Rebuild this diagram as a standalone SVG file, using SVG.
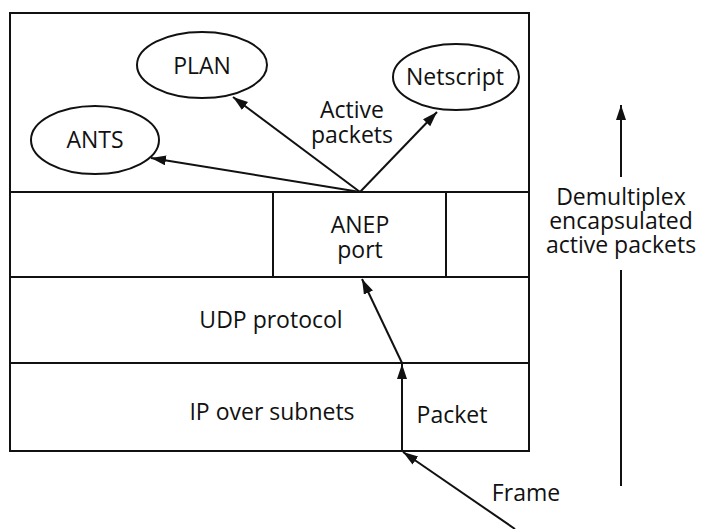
<svg xmlns="http://www.w3.org/2000/svg" width="701" height="529" viewBox="0 0 701 529">
  <style>
    .frame { fill: none; stroke: #111; stroke-width: 2; }
    .oval { fill: #fff; stroke: #111; stroke-width: 2; }
    .link { fill: none; stroke: #111; stroke-width: 2; }
    .lbl { font-family: "Open Sans", "Noto Sans", "Liberation Sans", sans-serif; font-size: 23px; fill: #111; text-anchor: middle; }
  </style>
  <defs>
    <marker id="head" markerUnits="userSpaceOnUse" markerWidth="16" markerHeight="12" refX="15" refY="5" orient="auto">
      <path d="M0,0 L15,5 L0,10 z" fill="#111"/>
    </marker>
  </defs>
  <rect width="701" height="529" fill="#fff"/>

  <!-- protocol stack -->
  <g id="stack">
    <rect class="frame" x="10" y="13" width="519" height="438"/>
    <line class="frame" x1="10" y1="192" x2="529" y2="192"/>
    <line class="frame" x1="10" y1="277" x2="529" y2="277"/>
    <line class="frame" x1="10" y1="363" x2="529" y2="363"/>
  </g>

  <g id="anep-port">
    <line class="frame" x1="273" y1="192" x2="273" y2="277"/>
    <line class="frame" x1="446" y1="192" x2="446" y2="277"/>
    <text class="lbl" x="360" y="233">ANEP<tspan x="360" dy="25">port</tspan></text>
  </g>

  <g id="udp">
    <text class="lbl" x="271" y="328">UDP protocol</text>
  </g>

  <g id="ip">
    <text class="lbl" x="272" y="420">IP over subnets</text>
  </g>

  <g id="packet">
    <line class="frame" x1="402" y1="363" x2="402" y2="451"/>
    <text class="lbl" x="452" y="423">Packet</text>
  </g>

  <!-- execution environments -->
  <g id="plan">
    <ellipse class="oval" cx="202" cy="65" rx="65" ry="33"/>
    <text class="lbl" x="202" y="74">PLAN</text>
  </g>
  <g id="ants">
    <ellipse class="oval" cx="95" cy="140" rx="64" ry="34"/>
    <text class="lbl" x="95" y="148">ANTS</text>
  </g>
  <g id="netscript">
    <ellipse class="oval" cx="456" cy="77" rx="63" ry="33"/>
    <text class="lbl" x="455" y="85">Netscript</text>
  </g>

  <g id="labels">
    <text class="lbl" x="352" y="118">Active<tspan x="352" dy="25">packets</tspan></text>
    <text class="lbl" x="526" y="501">Frame</text>
    <text class="lbl" x="621" y="205">Demultiplex<tspan x="621" dy="24">encapsulated</tspan><tspan x="621" dy="24">active packets</tspan></text>
  </g>

  <!-- connectors -->
  <g id="connectors">
    <line class="link" x1="360" y1="192" x2="233" y2="97" marker-end="url(#head)"/>
    <line class="link" x1="360" y1="192" x2="151" y2="158" marker-end="url(#head)"/>
    <line class="link" x1="360" y1="192" x2="437" y2="112" marker-end="url(#head)"/>
    <line class="link" x1="402" y1="363" x2="362" y2="279" marker-end="url(#head)"/>
    <line class="link" x1="402" y1="451" x2="402" y2="364" marker-end="url(#head)"/>
    <line class="link" x1="515" y1="529" x2="403" y2="452" marker-end="url(#head)"/>
    <line class="link" x1="621" y1="486" x2="621" y2="270"/>
    <line class="link" x1="621" y1="177" x2="621" y2="105" marker-end="url(#head)"/>
  </g>
</svg>
